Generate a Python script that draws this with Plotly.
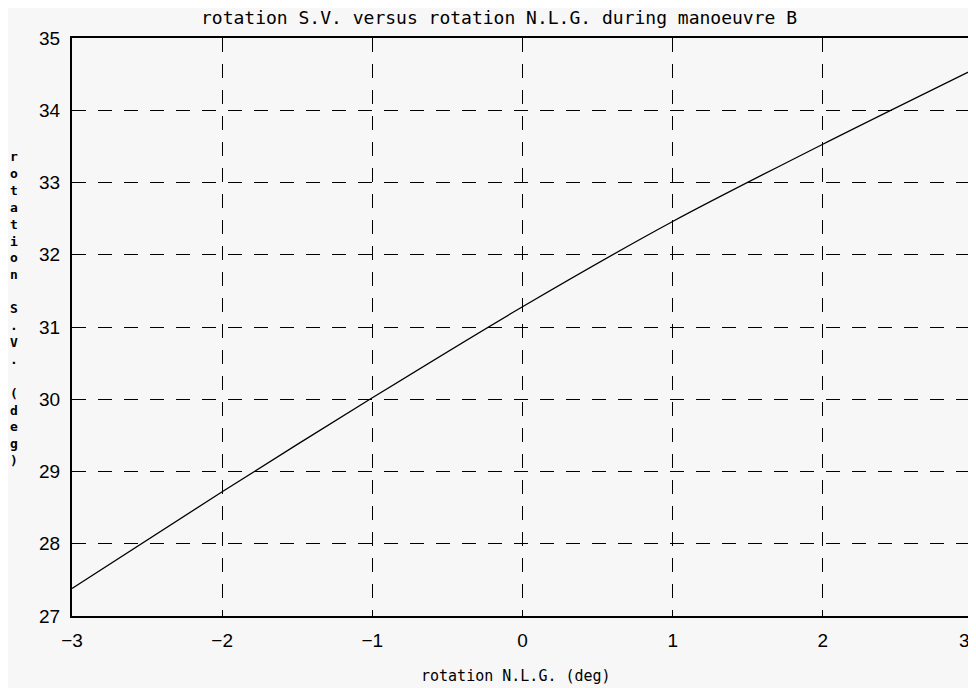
import plotly.graph_objects as go

# Data
x_nlg = [-3, -2, -1, 0, 1, 2, 3]
y_sv = [27.38, 28.72, 30.02, 31.28, 32.46, 33.53, 34.56]

x_ticks = [-3, -2, -1, 0, 1, 2, 3]
x_tick_labels = ["\u22123", "\u22122", "\u22121", "0", "1", "2", "3"]
y_ticks = [27, 28, 29, 30, 31, 32, 33, 34, 35]

title_text = "rotation S.V. versus rotation N.L.G. during manoeuvre B"
x_title = "rotation N.L.G. (deg)"
y_title = "rotation S.V. (deg)"

BG = "#f7f7f7"

# page body has an 8px margin: figure occupies window from (8,8)
OFF = 8
W, H = 976 - OFF, 688 - OFF
L, T, R, B = 72 - OFF, 38 - OFF, 1, 688 - 616
PW, PH = W - L - R, H - T - B


def px_x(xw):
    return (xw - OFF - L) / PW


def px_y(yw):
    return (H - B - (yw - OFF)) / PH


TICKFONT = dict(family="Liberation Sans", size=19, color="black")

fig = go.Figure()
fig.add_trace(go.Scatter(x=x_nlg, y=y_sv, mode="lines",
                         line=dict(color="black", width=1.3, shape="spline", smoothing=0.8),
                         showlegend=False, hoverinfo="skip"))

axis_common = dict(
    showline=True, linecolor="black", linewidth=2, mirror=True,
    showgrid=True, gridcolor="black", gridwidth=1.4, griddash="14px,12px",
    zeroline=False, ticks="", tickfont=TICKFONT,
)

# last x label drawn as annotation so it is not dropped at the paper edge
fig.update_xaxes(range=[-3, 3], tickvals=x_ticks[:-1],
                 ticktext=x_tick_labels[:-1],
                 ticklabelstandoff=6, **axis_common)
fig.update_yaxes(range=[27, 35], tickvals=y_ticks,
                 ticklabelstandoff=6, **axis_common)

stacked = "<br>".join(ch if ch != " " else " " for ch in y_title)

fig.update_layout(
    width=W, height=H,
    margin=dict(l=L, r=R, t=T, b=B),
    paper_bgcolor=BG, plot_bgcolor=BG,
    font=dict(family="DejaVu Sans Mono", color="black"),
    annotations=[
        dict(text=title_text, x=px_x(500), y=px_y(18), xref="paper", yref="paper",
             showarrow=False, font=dict(family="DejaVu Sans Mono", size=18),
             xanchor="center", yanchor="middle"),
        dict(text=x_title, xref="paper", yref="paper", x=px_x(517), y=px_y(676),
             showarrow=False, font=dict(family="DejaVu Sans Mono", size=15),
             xanchor="center", yanchor="middle"),
        dict(text="<b>" + stacked + "</b>", xref="paper", yref="paper", x=px_x(14), y=px_y(308),
             showarrow=False, font=dict(family="DejaVu Sans Mono", size=13),
             xanchor="center", yanchor="middle", align="center"),
        dict(text=x_tick_labels[-1], xref="x", yref="paper", x=x_ticks[-1], y=px_y(640),
             showarrow=False, font=TICKFONT, xanchor="right", yanchor="middle",
             xshift=-1),
    ],
)

fig.write_html("out.html")
